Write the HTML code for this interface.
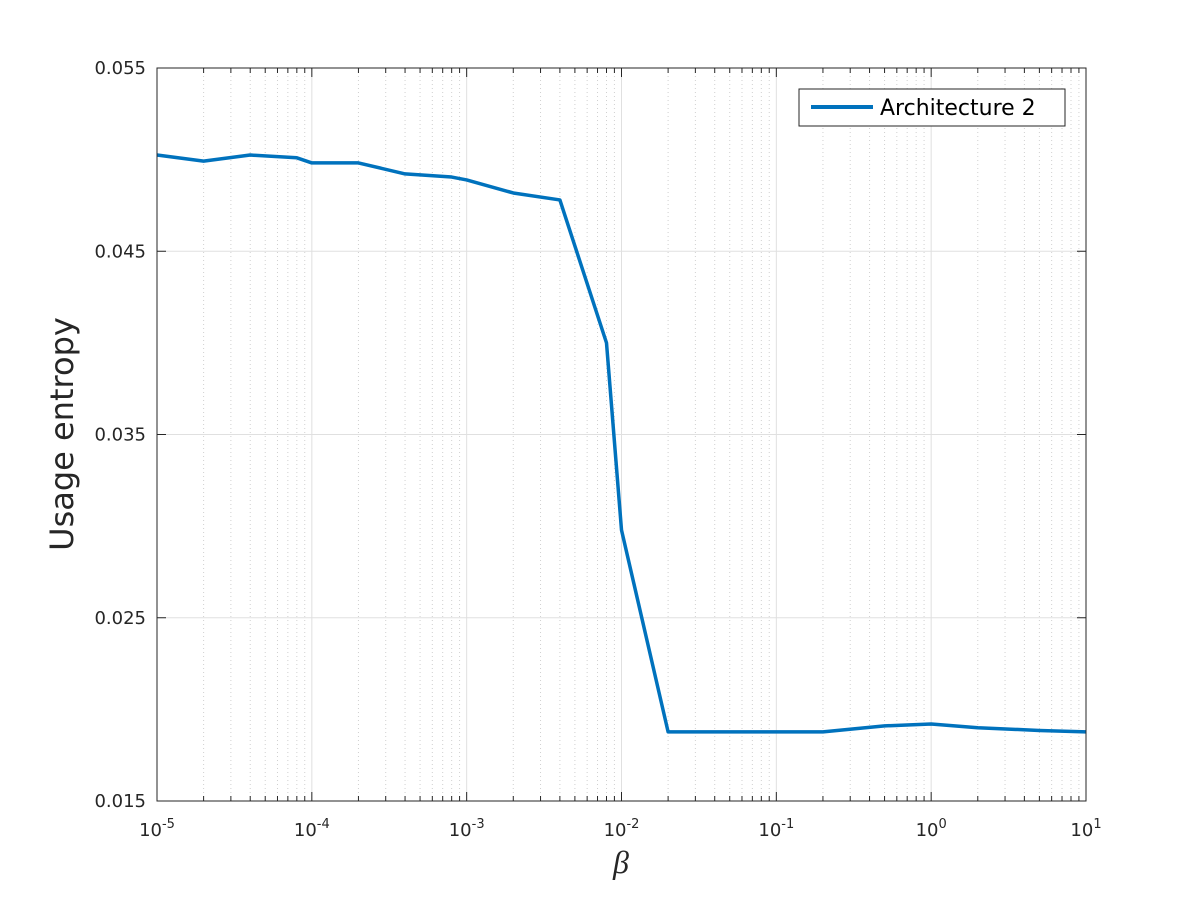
<!DOCTYPE html>
<html><head><meta charset="utf-8"><style>
body{margin:0;background:#fff;}
svg{display:block;font-family:"DejaVu Sans","Liberation Sans",sans-serif;}
</style></head><body>
<svg id="chart" width="1200" height="900">
<rect width="1200" height="900" fill="#fff"/>
<g id="grid"></g>
<g id="series"></g>
<rect x="157" y="68" width="929" height="733" fill="none" stroke="#262626" stroke-width="1"/>
<g id="ticks"></g>
<text x="73" y="434" font-size="32" fill="#262626" text-anchor="middle" transform="rotate(-90 73 434)">Usage entropy</text>
<text x="621" y="873" font-size="32" font-style="italic" font-family="Liberation Serif,serif" fill="#262626" text-anchor="middle">β</text>
<g>
<rect x="799" y="89" width="266" height="37" fill="#fff" stroke="#262626" stroke-width="1"/>
<line x1="811" y1="107" x2="873" y2="107" stroke="#0072BD" stroke-width="4"/>
<text x="880" y="115" font-size="22" fill="#000">Architecture 2</text>
</g>
</svg>
<script>
const betaValues=[1e-5,2e-5,4e-5,8e-5,1e-4,2e-4,4e-4,8e-4,1e-3,2e-3,4e-3,8e-3,1e-2,2e-2,4e-2,1e-1,2e-1,5e-1,1,2,5,10];
const entropyValues=[0.05025,0.04992,0.05025,0.0501,0.04982,0.04982,0.04922,0.04905,0.04889,0.04818,0.0478,0.0400,0.02979,0.01877,0.01877,0.01877,0.01877,0.0191,0.0192,0.0190,0.01885,0.01877];
const yTicks=[0.015,0.025,0.035,0.045,0.055];
const yTickLabels=["0.015","0.025","0.035","0.045","0.055"];
const xExponents=[-5,-4,-3,-2,-1,0,1];
const NS="http://www.w3.org/2000/svg";
const L=157,R=1086,T=68,B=801;
function xs(v){return L+(Math.log10(v)+5)/6*(R-L);}
function ys(v){return B-(v-0.015)/0.04*(B-T);}
function mk(tag,attrs,parent){const e=document.createElementNS(NS,tag);for(const k in attrs)e.setAttribute(k,attrs[k]);parent.appendChild(e);return e;}
const grid=document.getElementById('grid'),ticks=document.getElementById('ticks'),series=document.getElementById('series');
for(let d=-5;d<1;d++){for(let m=2;m<10;m++){const x=xs(m*Math.pow(10,d));
const g=mk('line',{x1:x,x2:x,y1:T,y2:B,stroke:'#d0d0d0','stroke-dasharray':'1,3','stroke-width':1},grid);


mk('line',{x1:x,x2:x,y1:B,y2:B-5,stroke:'#262626'},ticks);mk('line',{x1:x,x2:x,y1:T,y2:T+5,stroke:'#262626'},ticks);}}
xExponents.forEach(e=>{const x=xs(Math.pow(10,e));
const g=mk('line',{x1:x,x2:x,y1:T,y2:B,stroke:'#e0e0e0','stroke-width':1},grid);


mk('line',{x1:x,x2:x,y1:B,y2:B-9,stroke:'#262626'},ticks);mk('line',{x1:x,x2:x,y1:T,y2:T+9,stroke:'#262626'},ticks);
const t=mk('text',{x:x,y:836,'font-size':18,fill:'#262626','text-anchor':'middle'},ticks);


t.textContent='10';const s=document.createElementNS(NS,'tspan');s.setAttribute('dy','-8');s.setAttribute('font-size','13');s.textContent=String(e);t.appendChild(s);});
yTicks.forEach((v,i)=>{const y=ys(v);
const g=mk('line',{x1:L,x2:R,y1:y,y2:y,stroke:'#e0e0e0','stroke-width':1},grid);


mk('line',{x1:L,x2:L+9,y1:y,y2:y,stroke:'#262626'},ticks);mk('line',{x1:R,x2:R-9,y1:y,y2:y,stroke:'#262626'},ticks);
const t=mk('text',{x:146,y:y+6,'font-size':18,fill:'#262626','text-anchor':'end'},ticks);


t.textContent=yTickLabels[i];});
const pts=betaValues.map((b,i)=>xs(b)+','+ys(entropyValues[i])).join(' ');
const pl=mk('polyline',{points:pts,fill:'none',stroke:'#0072BD','stroke-width':3.5,'stroke-linejoin':'round'},series);


</script>
</body></html>
